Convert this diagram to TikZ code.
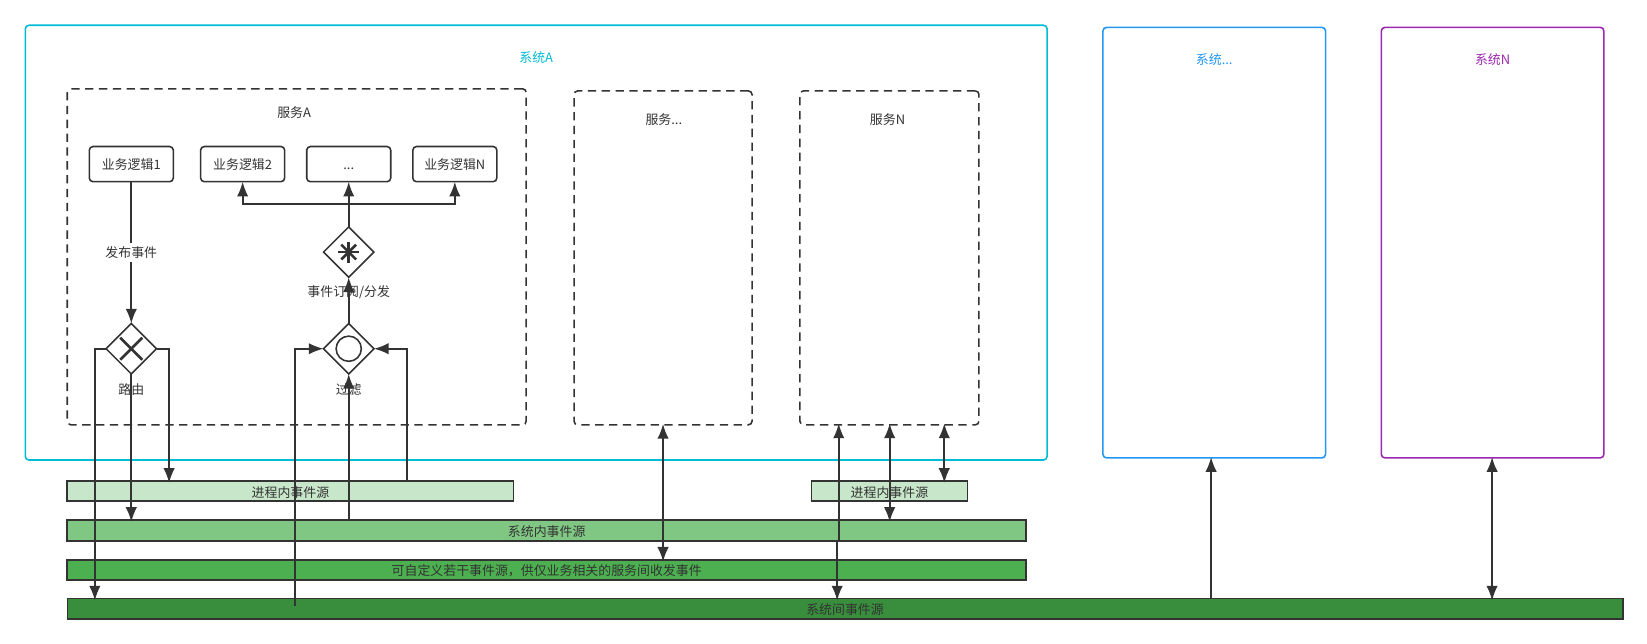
\documentclass[tikz,border=0pt]{standalone}
\usepackage{fontspec}
\setmainfont{Noto Sans CJK SC}
\usetikzlibrary{arrows.meta,shapes.geometric,calc}
\definecolor{ink}{HTML}{333333}
\definecolor{cyansys}{HTML}{00BCD4}
\definecolor{bluesys}{HTML}{2196F3}
\definecolor{purplesys}{HTML}{9C27B0}
\definecolor{barone}{HTML}{C8E6C9}
\definecolor{bartwo}{HTML}{81C784}
\definecolor{barthree}{HTML}{4CAF50}
\definecolor{barfour}{HTML}{388E3C}
\newcommand{\boxtext}[1]{\raisebox{0pt}[6pt][0pt]{#1}}
\newcommand{\bartext}[1]{\raisebox{0pt}[6.5pt][0pt]{#1}}
\tikzset{
	every node/.append style={inner sep=0pt,outer sep=0pt,font=\fontsize{7pt}{8pt}\selectfont,text=ink},
	sysbox/.style={draw=#1,line width=0.85pt,rounded corners=2pt,fill=white},
	svcbox/.style={draw=ink,line width=0.85pt,rounded corners=2pt,dash pattern=on 4.5pt off 3pt},
	logicbox/.style={draw=ink,line width=0.85pt,rounded corners=2pt,fill=white,minimum width=1.6cm,minimum height=0.67cm},
	gate/.style={draw=ink,line width=0.85pt,diamond,minimum width=0.96cm,minimum height=0.96cm,fill=white},
	srcbar/.style={draw=ink,line width=0.95pt,fill=#1,minimum height=0.385cm},
	flow/.style={draw=ink,line width=1pt,-{Latex[length=8pt,width=6.2pt]}},
	barflow/.style={flow,shorten >=-1.1pt},
	biflow/.style={draw=ink,line width=1pt,{Latex[length=8pt,width=6.2pt]}-{Latex[length=8pt,width=6.2pt]},shorten >=-1.1pt,shorten <=-0.5pt},
	plainflow/.style={draw=ink,line width=1pt},
	icon/.style={draw=ink,line width=1.4pt},
}
\begin{document}
\begin{tikzpicture}[x=0.02cm,y=0.02cm]
	\useasboundingbox (0,0) rectangle (1568,-612.2);
	% systems
	\node [sysbox=cyansys,minimum width=19.46cm,minimum height=8.28cm] (sysa) at (510.5,-231) {};
	\node [sysbox=bluesys,minimum width=4.24cm,minimum height=8.2cm] (sysdots) at (1156,-231) {};
	\node [sysbox=purplesys,minimum width=4.24cm,minimum height=8.2cm] (sysn) at (1421,-231) {};
	\node [text=cyansys] (sysalabel) at (510.5,-55) {系统A};
	\node [text=bluesys] (sysdotslabel) at (1156,-57) {系统...};
	\node [text=purplesys] (sysnlabel) at (1421,-57) {系统N};
	% services
	\node [svcbox,minimum width=8.74cm,minimum height=6.4cm] (svca) at (282.5,-244.5) {};
	\node [svcbox,minimum width=3.39cm,minimum height=6.36cm] (svcdots) at (631.25,-245.5) {};
	\node [svcbox,minimum width=3.41cm,minimum height=6.36cm] (svcn) at (846.75,-245.5) {};
	\node (svcalabel) at (280,-107) {服务A};
	\node (svcdotslabel) at (632,-114) {服务...};
	\node (svcnlabel) at (845,-114) {服务N};
	% event sources
	\node [srcbar=barone,minimum width=8.5cm] (localbar) at (276.5,-467.5) {\bartext{进程内事件源}};
	\node [srcbar=barone,minimum width=2.97cm] (localbarn) at (846.75,-467.5) {\bartext{进程内事件源}};
	\node [srcbar=bartwo,minimum width=18.26cm,minimum height=0.4cm] (innerbar) at (520.5,-505) {\bartext{系统内事件源}};
	\node [srcbar=barthree,minimum width=18.26cm] (custombar) at (520.5,-542.5) {\bartext{可自定义若干事件源，供仅业务相关的服务间收发事件}};
	\node [srcbar=barfour,minimum width=29.62cm] (peerbar) at (804.5,-579.5) {\bartext{系统间事件源}};
	% business logic
	\node [logicbox] (logica) at (125,-156.25) {\boxtext{业务逻辑1}};
	\node [logicbox] (logicb) at (231,-156.25) {\boxtext{业务逻辑2}};
	\node [logicbox] (logicc) at (332,-156.25) {\boxtext{...}};
	\node [logicbox] (logicd) at (433,-156.25) {\boxtext{业务逻辑N}};
	% gateways
	\node [gate] (route) at (125,-332) {};
	\node [gate] (filter) at (332,-332) {};
	\node [gate] (dispatch) at (332,-240) {};
	\draw [icon] ($(route)+(-10.5,-10.5)$) -- ($(route)+(10.5,10.5)$);
	\draw [icon] ($(route)+(-10.5,10.5)$) -- ($(route)+(10.5,-10.5)$);
	\draw [draw=ink,line width=0.85pt] (filter) circle (12);
	\foreach \a in {0,45,90,135}
		\draw [icon] ($(dispatch)+(\a:10)$) -- ($(dispatch)+(\a+180:10)$);
	% free ends
	\coordinate (routeleft) at (90.3,-332);
	\coordinate (routeright) at (161,-332);
	\coordinate (filterleft) at (281,-332);
	\coordinate (filterright) at (387.3,-332);
	\coordinate (peertail) at (281,-577);
	\coordinate (forktop) at (332,-194);
	\coordinate (tapa) at (798.5,-404);
	\coordinate (tapajog) at (797,-515);
	\coordinate (tapb) at (847,-404);
	\coordinate (tapc) at (899,-404);
	\coordinate (sysbtail) at (1153,-436);
	\coordinate (sysntail) at (1420.5,-436);
	% connectors
	\draw [flow] (logica.south) -- (route.north);
	\node [fill=white,inner ysep=2pt] (publish) at (125,-240.5) {发布事件};
	\draw [barflow] (route.west) -- (routeleft) -- (routeleft |- peerbar.north);
	\draw [barflow] (route.south) -- (route.south |- innerbar.north);
	\draw [barflow] (route.east) -- (routeright) -- (routeright |- localbar.north);
	\draw [flow] (filterright |- localbar.north) -- (filterright) -- (filter.east);
	\draw [flow] (filter.south |- innerbar.north) -- (filter.south);
	\draw [flow] (peertail) -- (filterleft) -- (filter.west);
	\draw [flow] (filter.north) -- (dispatch.south);
	\draw [plainflow] (dispatch.north) -- (forktop);
	\draw [flow] (forktop) -- (logicb.south |- forktop) -- (logicb.south);
	\draw [flow] (forktop) -- (logicc.south);
	\draw [flow] (forktop) -- (logicd.south |- forktop) -- (logicd.south);
	\node (routelabel) at (125,-371) {路由};
	\node (filterlabel) at (332,-371) {过滤};
	\node (subscribe) at (332,-278.5) {事件订阅/分发};
	\draw [biflow] (svcdots.south) -- (svcdots.south |- custombar.north);
	\draw [biflow] (tapa) -- (tapa |- tapajog) -- (tapajog) -- (tapajog |- peerbar.north);
	\draw [biflow] (tapb) -- (tapb |- innerbar.north);
	\draw [biflow] (tapc) -- (tapc |- localbarn.north);
	\draw [flow,shorten >=-0.5pt] (sysbtail |- peerbar.north) -- (sysbtail);
	\draw [biflow] (sysntail) -- (sysntail |- peerbar.north);
\end{tikzpicture}
\end{document}
